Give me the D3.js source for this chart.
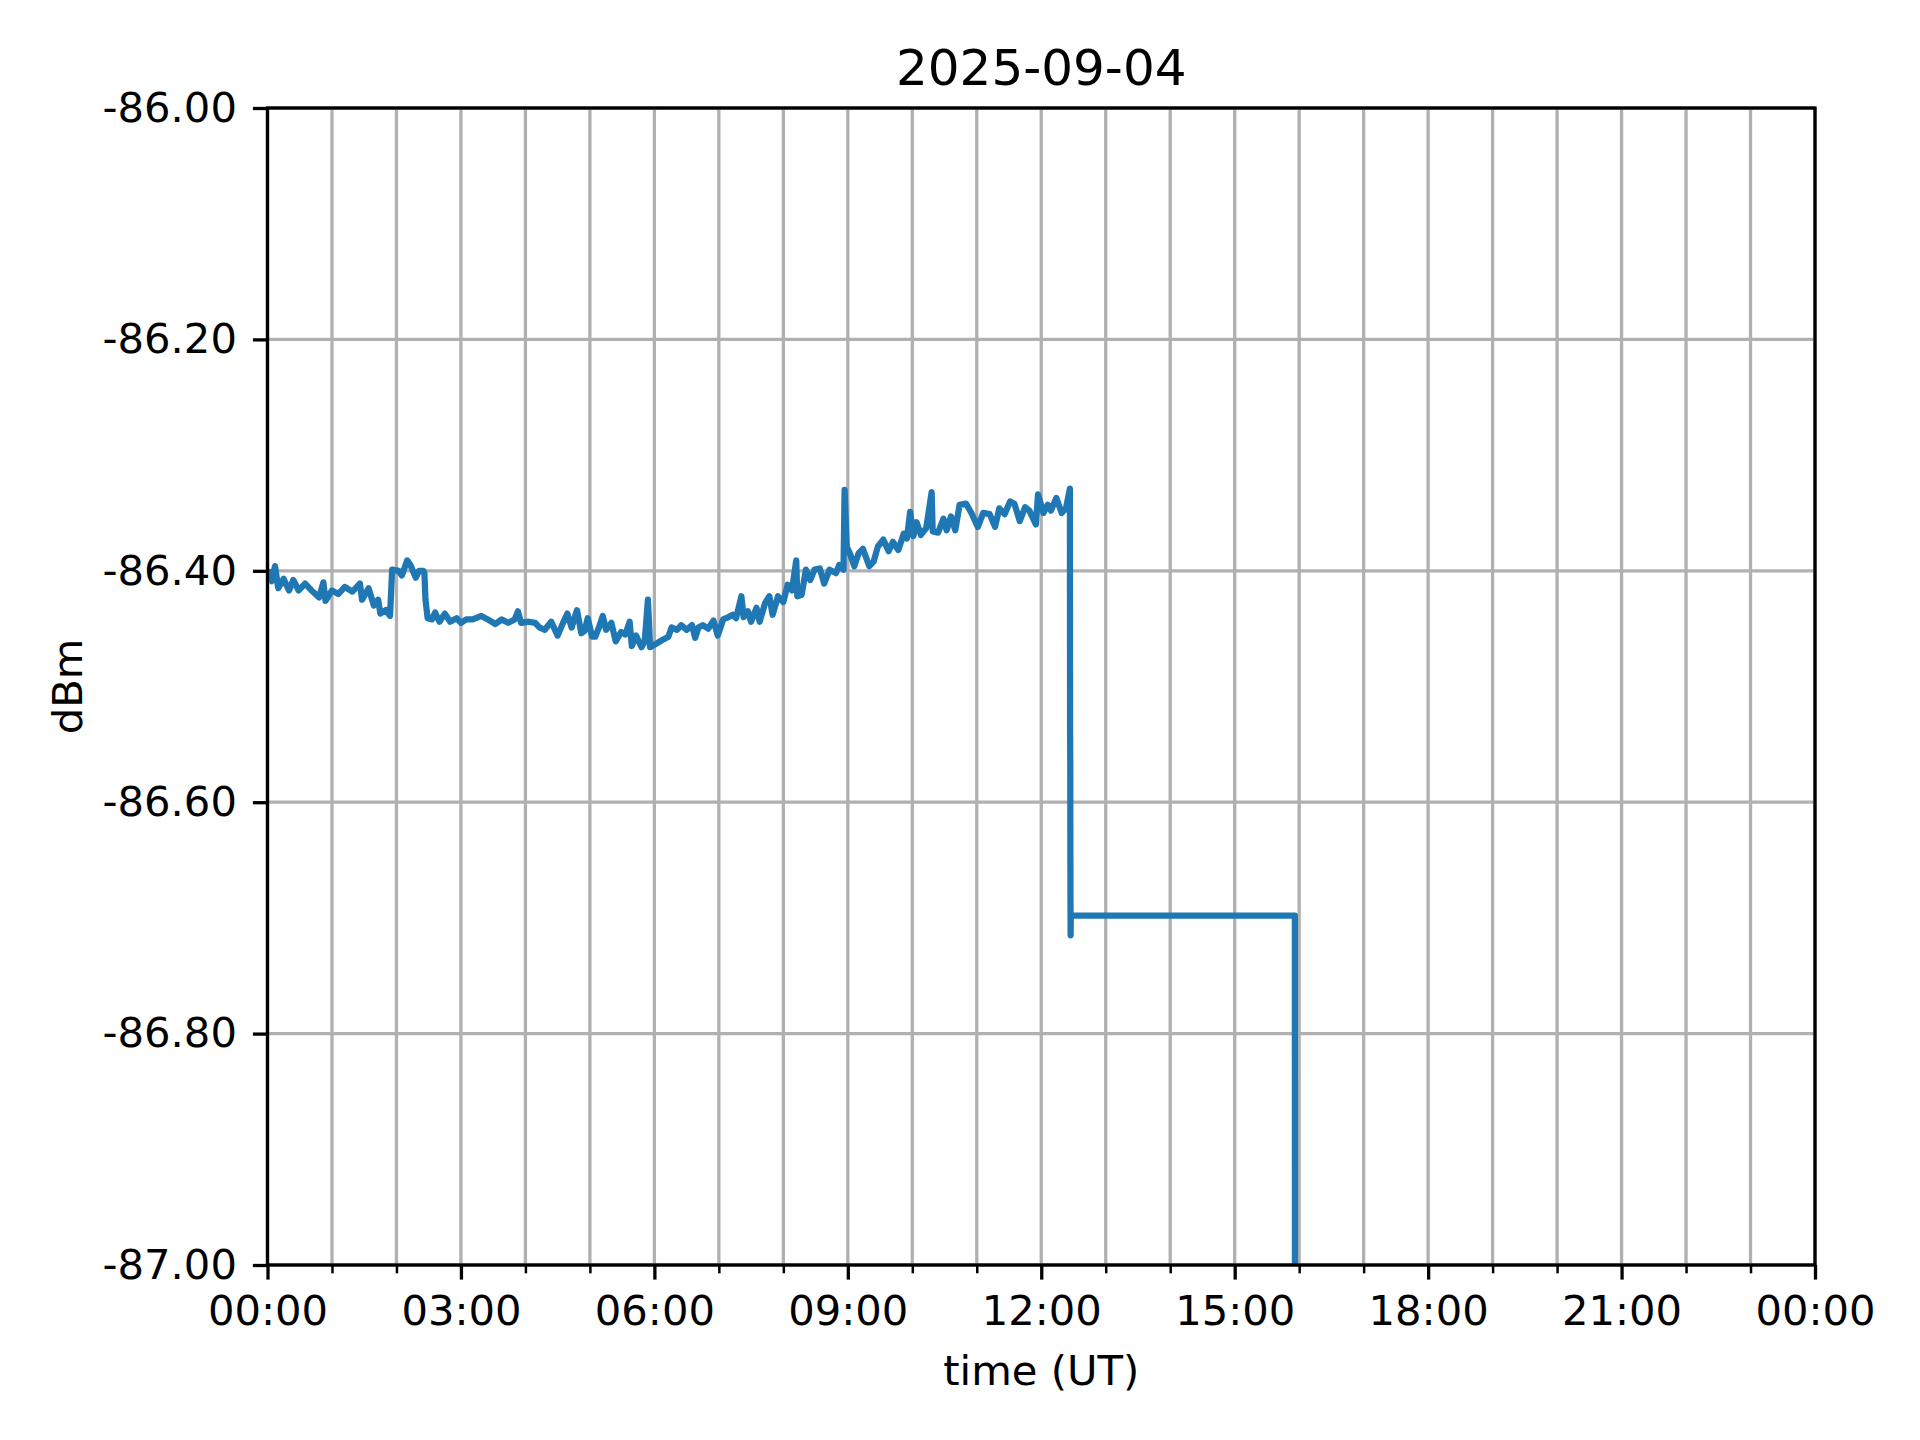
<!DOCTYPE html>
<html>
<head>
  <meta charset="utf-8">
  <script src="https://cdn.jsdelivr.net/npm/d3@7"></script>
  <style>
    html, body {
        margin:0px;
        padding:0px;
        background:#fff;
    }
    text {
        font-family: "DejaVu Sans", sans-serif;
        fill: #000;
    }
  </style>
  <title>2025-09-04</title>
</head>

<body>
  <div id="chart"></div>
<script>
    // Received level for the day (UT time, dBm)
    var day = "2025-09-04";
    var times = [
        "00:00","00:02","00:04","00:07","00:10","00:15","00:20","00:24","00:29","00:35",
        "00:41","00:48","00:52","00:54","01:00","01:06","01:12","01:19","01:26","01:28",
        "01:34","01:39","01:43","01:45","01:50","01:54","01:56","02:02","02:05","02:10",
        "02:13","02:18","02:21","02:25","02:26","02:27","02:29","02:33","02:36","02:40",
        "02:45","02:50","02:56","03:00","03:05","03:11","03:19","03:25","03:32","03:38",
        "03:44","03:50","03:53","03:56","04:03","04:09","04:13","04:18","04:24","04:30",
        "04:35","04:39","04:43","04:48","04:52","04:55","04:58","05:02","05:05","05:08",
        "05:12","05:15","05:20","05:24","05:29","05:33","05:37","05:39","05:43","05:48",
        "05:51","05:54","05:56","06:00","06:07","06:13","06:16","06:21","06:25","06:30",
        "06:35","06:38","06:41","06:45","06:50","06:55","06:59","07:04","07:09","07:13",
        "07:16","07:21","07:23","07:27","07:30","07:35","07:38","07:43","07:47","07:50",
        "07:55","08:00","08:04","08:08","08:12","08:13","08:17","08:21","08:25","08:29",
        "08:34","08:38","08:43","08:49","08:52","08:56","08:57","08:59","09:02","09:06",
        "09:10","09:14","09:20","09:24","09:28","09:33","09:38","09:42","09:47","09:52",
        "09:55","09:58","10:01","10:04","10:08","10:13","10:18","10:19","10:24","10:29",
        "10:32","10:36","10:40","10:44","10:50","10:55","11:01","11:06","11:12","11:17",
        "11:21","11:26","11:31","11:35","11:40","11:45","11:49","11:55","11:57","12:02",
        "12:06","12:09","12:14","12:19","12:23","12:26:40","12:26:50","12:27:00","12:27:10","12:27:20",
        "12:27:30","15:56:00","15:56:10"
    ];
    var dbm = [
        -86.403,-86.401,-86.409,-86.396,-86.415,-86.407,-86.417,-86.408,-86.417,-86.411,
        -86.417,-86.423,-86.410,-86.426,-86.417,-86.420,-86.414,-86.418,-86.411,-86.425,
        -86.415,-86.430,-86.425,-86.437,-86.434,-86.439,-86.399,-86.400,-86.404,-86.391,
        -86.395,-86.406,-86.400,-86.400,-86.402,-86.425,-86.441,-86.442,-86.436,-86.444,
        -86.437,-86.444,-86.441,-86.445,-86.442,-86.442,-86.439,-86.442,-86.446,-86.442,
        -86.445,-86.442,-86.435,-86.445,-86.444,-86.445,-86.449,-86.451,-86.444,-86.456,
        -86.445,-86.437,-86.449,-86.434,-86.454,-86.452,-86.441,-86.457,-86.457,-86.450,
        -86.439,-86.451,-86.445,-86.461,-86.453,-86.455,-86.444,-86.465,-86.456,-86.466,
        -86.461,-86.425,-86.466,-86.464,-86.460,-86.457,-86.449,-86.451,-86.447,-86.451,
        -86.447,-86.458,-86.449,-86.447,-86.450,-86.443,-86.456,-86.442,-86.440,-86.438,
        -86.441,-86.422,-86.440,-86.435,-86.444,-86.432,-86.444,-86.428,-86.422,-86.438,
        -86.422,-86.427,-86.412,-86.417,-86.391,-86.422,-86.421,-86.399,-86.408,-86.399,
        -86.398,-86.411,-86.399,-86.402,-86.395,-86.399,-86.330,-86.379,-86.385,-86.396,
        -86.385,-86.381,-86.396,-86.392,-86.379,-86.373,-86.383,-86.375,-86.382,-86.368,
        -86.372,-86.349,-86.370,-86.358,-86.369,-86.363,-86.332,-86.366,-86.367,-86.355,
        -86.365,-86.353,-86.365,-86.343,-86.342,-86.350,-86.362,-86.350,-86.351,-86.362,
        -86.346,-86.351,-86.340,-86.342,-86.357,-86.345,-86.348,-86.360,-86.334,-86.350,
        -86.343,-86.348,-86.337,-86.350,-86.346,-86.329,-86.539,-86.566,-86.677,-86.715,
        -86.698,-86.698,-87.500
    ];
    var yTicks = [-86.0, -86.2, -86.4, -86.6, -86.8, -87.0];
    var xMajorHours = [0, 3, 6, 9, 12, 15, 18, 21, 24];
    var xTickLabels = ["00:00","03:00","06:00","09:00","12:00","15:00","18:00","21:00","00:00"];

    var W = 1920, H = 1440;
    var plotL = 267.5, plotR = 1815, plotT = 108, plotB = 1265;

    var parseFull = d3.utcParse("%Y-%m-%d %H:%M:%S");
    function parseT(s) {
        return parseFull(day + " " + (s.length == 5 ? s + ":00" : s));
    }
    var data = times.map(function(t, i) { return {t: parseT(t), v: dbm[i]}; });

    var t0 = parseT("00:00");
    var t1 = d3.utcDay.offset(t0, 1);
    var x = d3.scaleUtc().domain([t0, t1]).range([plotL, plotR]);
    var y = d3.scaleLinear().domain([-87, -86]).range([plotB, plotT]);

    var allHours = d3.utcHour.range(t0, d3.utcHour.offset(t1, 1));
    var majorDates = xMajorHours.map(function(h) { return d3.utcHour.offset(t0, h); });
    var minorDates = allHours.filter(function(d) { return (d - t0) / 3600000 % 3 != 0; });

    var svg = d3.select("#chart").append("svg")
        .attr("width", W).attr("height", H)
        .style("display", "block")
        .style("background", "#fff");

    // grid
    var grid = svg.append("g");
    grid.selectAll("line.vg").data(allHours).enter().append("line")
        .attr("x1", function(d) { return x(d); }).attr("x2", function(d) { return x(d); })
        .attr("y1", plotT).attr("y2", plotB)
        .style("stroke", "#b0b0b0").style("stroke-width", 3.3);
    grid.selectAll("line.hg").data(yTicks).enter().append("line")
        .attr("x1", plotL).attr("x2", plotR)
        .attr("y1", function(d) { return y(d); }).attr("y2", function(d) { return y(d); })
        .style("stroke", "#b0b0b0").style("stroke-width", 3.3);

    // data line
    svg.append("clipPath").attr("id", "plotclip").append("rect")
        .attr("x", plotL).attr("y", plotT).attr("width", plotR - plotL).attr("height", plotB - plotT);

    var line = d3.line()
        .x(function(d) { return x(d.t); })
        .y(function(d) { return y(d.v); });

    svg.append("path")
        .datum(data)
        .attr("clip-path", "url(#plotclip)")
        .attr("d", line)
        .style("fill", "none")
        .style("stroke", "#1f77b4")
        .style("stroke-width", 6.25)
        .style("stroke-linejoin", "round")
        .style("stroke-linecap", "round");

    // axes
    var xAxis = d3.axisBottom(x)
        .tickValues(majorDates)
        .tickFormat(function(d, i) { return xTickLabels[i]; })
        .tickSizeInner(14.6).tickSizeOuter(0).tickPadding(16);
    var xMinor = d3.axisBottom(x)
        .tickValues(minorDates)
        .tickFormat("")
        .tickSizeInner(8.3).tickSizeOuter(0);
    var yAxis = d3.axisLeft(y)
        .tickValues(yTicks)
        .tickFormat(function(d) { return d.toFixed(2); })
        .tickSizeInner(14.6).tickSizeOuter(0).tickPadding(16);

    var gx = svg.append("g").attr("transform", "translate(0," + plotB + ")").call(xAxis);
    var gxm = svg.append("g").attr("transform", "translate(0," + plotB + ")").call(xMinor);
    var gy = svg.append("g").attr("transform", "translate(" + plotL + ",0)").call(yAxis);

    [gx, gxm, gy].forEach(function(g) {
        g.select(".domain").remove();
        g.selectAll(".tick line").style("stroke", "#000");
        g.selectAll("text").style("font-family", "DejaVu Sans").style("font-size", "41.7px").style("fill", "#000");
    });
    gx.selectAll(".tick line").style("stroke-width", 3.3);
    gy.selectAll(".tick line").style("stroke-width", 3.3);
    gxm.selectAll(".tick line").style("stroke-width", 2.5);

    // spines
    svg.append("rect")
        .attr("x", plotL).attr("y", plotT)
        .attr("width", plotR - plotL).attr("height", plotB - plotT)
        .style("fill", "none").style("stroke", "#000").style("stroke-width", 3.3);

    // titles
    svg.append("text")
        .attr("x", (plotL + plotR) / 2).attr("y", 85)
        .attr("text-anchor", "middle")
        .style("font-size", "50px")
        .text("2025-09-04");

    svg.append("text")
        .attr("x", (plotL + plotR) / 2).attr("y", 1385)
        .attr("text-anchor", "middle")
        .style("font-size", "41.7px")
        .text("time (UT)");

    svg.append("text")
        .attr("transform", "translate(82," + (plotT + plotB) / 2 + ") rotate(-90)")
        .attr("text-anchor", "middle")
        .style("font-size", "41.7px")
        .text("dBm");
</script>
</body>
</html>
